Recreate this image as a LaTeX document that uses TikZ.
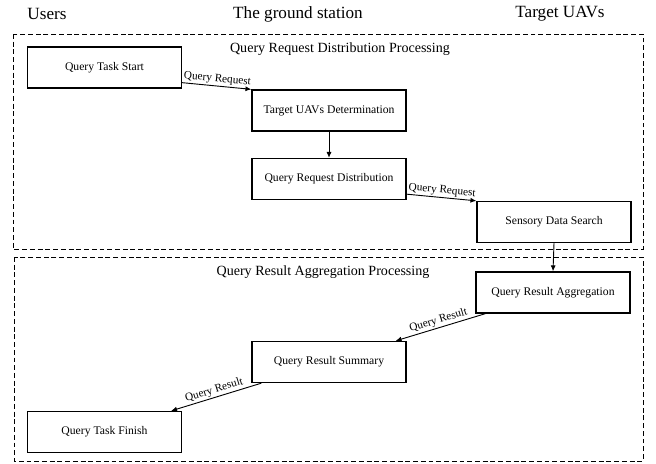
\documentclass[tikz,border=0pt]{standalone}
\usepackage{fontspec}
\setmainfont{Liberation Serif}
\usetikzlibrary{arrows.meta}
\pgfdeclarelayer{edgelayer}
\pgfdeclarelayer{nodelayer}
\pgfsetlayers{edgelayer,nodelayer,main}
\tikzstyle{none}=[inner sep=0pt]
\tikzstyle{lane}=[inner sep=0pt,font=\fontsize{12.2}{14}\selectfont]
\tikzstyle{title}=[inner sep=0pt,font=\fontsize{10}{12}\selectfont]
\tikzstyle{task}=[rectangle,draw=black,fill=white,line width=0.95pt,minimum width=3.85cm,minimum height=1.025cm,inner sep=0pt,font=\fontsize{8.3}{10}\selectfont]
\tikzstyle{frame}=[draw=black,line width=0.6pt,dash pattern=on 3.5pt off 2pt]
\tikzstyle{flow}=[-{Latex[length=4.2pt,width=3.6pt]},draw=black,line width=0.65pt]
\tikzstyle{msg}=[sloped,above,inner sep=1pt,font=\fontsize{8}{9}\selectfont]

\begin{document}
\begin{tikzpicture}
	\useasboundingbox (0, 0) rectangle (16.4, -11.575);
	\begin{pgfonlayer}{nodelayer}
		\node [style=lane] (u) at (1.175, -0.35) {Users};
		\node [style=lane] (g) at (7.45, -0.35) {The ground station};
		\node [style=lane] (t) at (14, -0.35) {Target UAVs};
		\node [style=none] (a1) at (0.325, -0.85) {};
		\node [style=none] (a2) at (16.075, -6.225) {};
		\node [style=none] (b1) at (0.35, -6.425) {};
		\node [style=none] (b2) at (16.075, -11.525) {};
		\node [style=title] (p1) at (8.5, -1.225) {Query Request Distribution Processing};
		\node [style=title] (p2) at (8.075, -6.8) {Query Result Aggregation Processing};
		\node [style=task] (0) at (2.6125, -1.6875) {Query Task Start};
		\node [style=task] (1) at (8.225, -2.7625) {Target UAVs Determination};
		\node [style=task] (2) at (8.225, -4.475) {Query Request Distribution};
		\node [style=task] (3) at (13.85, -5.55) {Sensory Data Search};
		\node [style=task] (4) at (13.825, -7.3125) {Query Result Aggregation};
		\node [style=task] (5) at (8.225, -9.05) {Query Result Summary};
		\node [style=task] (6) at (2.6125, -10.8) {Query Task Finish};
	\end{pgfonlayer}
	\begin{pgfonlayer}{edgelayer}
		\draw [style=frame] (a1.center) rectangle (a2.center);
		\draw [style=frame] (b1.center) rectangle (b2.center);
		\draw [style=flow] ([yshift=0.15cm]0.south east) to node [style=msg] {Query Request} (1.north west);
		\draw [style=flow] (1.south) to (2.north);
		\draw [style=flow] ([yshift=0.15cm]2.south east) to node [style=msg] {Query Request} (3.north west);
		\draw [style=flow] (3.south) to (4.north);
		\draw [style=flow] ([xshift=0.25cm]4.south west) to node [style=msg] {Query Result} ([xshift=-0.275cm]5.north east);
		\draw [style=flow] ([xshift=0.25cm]5.south west) to node [style=msg] {Query Result} ([xshift=-0.275cm]6.north east);
	\end{pgfonlayer}
\end{tikzpicture}
\end{document}
